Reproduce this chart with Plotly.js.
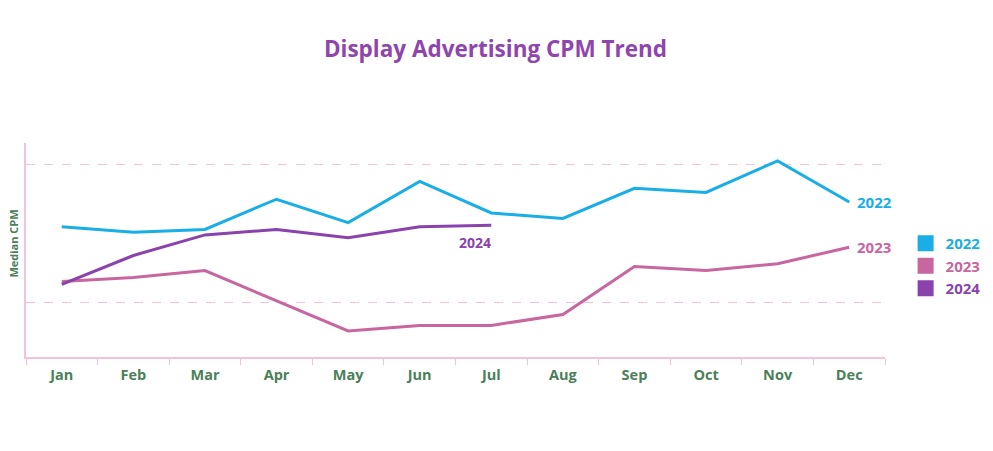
<!DOCTYPE html>
<html>
<head>
<meta charset="utf-8">
<script src="https://cdn.plot.ly/plotly-3.0.1.min.js"></script>
<style>html,body{margin:0;padding:0;background:#fff;}#chart{width:993px;height:451px;}</style>
</head>
<body>
<div id="chart"></div>
<script>
const months = ["Jan","Feb","Mar","Apr","May","Jun","Jul","Aug","Sep","Oct","Nov","Dec"];
const cpm2022 = [2.55, 2.51, 2.53, 2.75, 2.58, 2.88, 2.65, 2.61, 2.83, 2.80, 3.03, 2.73];
const cpm2023 = [2.15, 2.18, 2.23, 2.01, 1.79, 1.83, 1.83, 1.91, 2.26, 2.23, 2.28, 2.40];
const cpm2024 = [2.13, 2.34, 2.49, 2.53, 2.47, 2.55, 2.56];
const seriesNames = ["2022", "2023", "2024"];
const colors = ["#1aaee6", "#c8669f", "#8a43ad"];
const green = "#4a7f5a";
const pink = "#f3c2df";
const fontFam = "'Open Sans', 'DejaVu Sans', sans-serif";

const data = [cpm2022, cpm2023, cpm2024].map((vals, i) => ({
  x: months.slice(0, vals.length),
  y: vals,
  type: "scatter",
  mode: "lines",
  line: {color: colors[i], width: 3},
  showlegend: false,
  hoverinfo: "x+y"
}));
seriesNames.forEach((n, i) => {
  data.push({
    x: [null], y: [null], type: "scatter", mode: "markers",
    marker: {symbol: "square", size: 16, color: colors[i]},
    name: '<span style="color:' + colors[i] + '">' + n + '</span>',
    showlegend: true
  });
});

const layout = {
  width: 993, height: 451,
  margin: {l: 26, r: 108, t: 143, b: 94},
  paper_bgcolor: "#fff", plot_bgcolor: "#fff",
  title: {text: "<b>Display Advertising CPM Trend</b>", font: {family: fontFam, size: 22.5, color: "#8e45ad"}, x: 0.499, xref: "container", y: 0.89, yref: "container", xanchor: "center", yanchor: "middle"},
  xaxis: {
    type: "category", range: [-0.5, 11.5],
    showline: true, linecolor: pink, linewidth: 2,
    ticks: "outside", tickson: "boundaries", ticklen: 6, tickcolor: pink, tickwidth: 1,
    ticklabelstandoff: 4,
    showgrid: false, zeroline: false,
    tickfont: {family: fontFam, size: 14.5, color: green, weight: 700}
  },
  yaxis: {
    range: [1.6, 3.16],
    showline: true, linecolor: pink, linewidth: 1.5,
    showticklabels: false, ticks: "",
    tickvals: [2, 3],
    showgrid: true, gridcolor: pink, griddash: "dash", gridwidth: 1,
    zeroline: false
  },
  legend: {
    xref: "container", yref: "container",
    x: 0.912, xanchor: "left", y: 0.41, yanchor: "middle",
    font: {family: fontFam, size: 15, color: "#333", weight: 700},
    tracegroupgap: 0, itemsizing: "trace", itemwidth: 30, bgcolor: "rgba(0,0,0,0)"
  },
  annotations: [
    {x: "Dec", y: cpm2022[11], xref: "x", yref: "y", text: "<b>2022</b>", showarrow: false, xanchor: "left", xshift: 6, font: {family: fontFam, size: 15, color: colors[0]}},
    {x: "Dec", y: cpm2023[11], xref: "x", yref: "y", text: "<b>2023</b>", showarrow: false, xanchor: "left", xshift: 6, font: {family: fontFam, size: 15, color: colors[1]}},
    {x: "Jul", y: cpm2024[6], xref: "x", yref: "y", text: "<b>2024</b>", showarrow: false, xanchor: "center", xshift: -16, yshift: -17, font: {family: fontFam, size: 14, color: colors[2]}},
    {x: 0, xref: "paper", y: 0.53, yref: "paper", text: "<b>Median CPM</b>", textangle: -90, showarrow: false, xanchor: "center", xshift: -12, font: {family: fontFam, size: 11, color: green}}
  ]
};

Plotly.newPlot("chart", data, layout, {displayModeBar: false, staticPlot: false});
</script>
</body>
</html>
